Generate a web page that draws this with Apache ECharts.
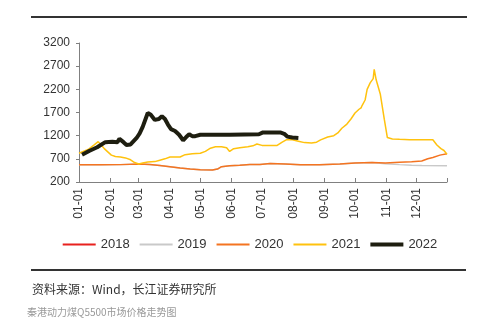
<!DOCTYPE html>
<html>
<head>
<meta charset="utf-8">
<script src="https://cdn.jsdelivr.net/npm/echarts@6/dist/echarts.min.js"></script>
<style>html,body{margin:0;padding:0;background:#fff}#c{width:500px;height:327px}</style>
</head>
<body>
<div id="c"></div>
<script>
// ---- data (day-of-year index, value) ----
var seriesNames = ['2018', '2019', '2020', '2021', '2022'];
var monthLabels = ['01-01','02-01','03-01','04-01','05-01','06-01','07-01','08-01','09-01','10-01','11-01','12-01'];
var yTicks = [200, 700, 1200, 1700, 2200, 2700, 3200];

var days2018 = [];
var vals2018 = [];

var days2019 = [0, 21, 41, 60, 70, 80, 90, 100, 110, 120, 132, 137, 141, 149, 159, 169, 179, 189, 204, 219, 238, 258, 273, 290, 303, 317, 329, 339, 364];
var vals2019 = [570, 570, 575, 590, 580, 555, 530, 500, 480, 465, 460, 480, 530, 550, 560, 580, 580, 600, 590, 570, 570, 590, 610, 620, 595, 575, 562, 556, 550];

var days2020 = [0, 21, 41, 60, 70, 80, 90, 100, 110, 120, 132, 137, 141, 149, 159, 169, 179, 189, 204, 219, 238, 258, 273, 290, 303, 317, 329, 339, 345, 350, 357, 364];
var vals2020 = [570, 570, 575, 590, 580, 555, 530, 500, 480, 465, 460, 480, 530, 550, 560, 580, 580, 600, 590, 570, 570, 590, 610, 620, 610, 625, 635, 655, 700, 730, 780, 810];

var days2021 = [0, 9, 15, 19, 22, 25, 29, 32, 36, 41, 46, 51, 55, 59, 63, 68, 75, 80, 85, 90, 95, 100, 105, 112, 120, 125, 130, 135, 141, 146, 149, 153, 159, 167, 172, 176, 181, 189, 196, 201, 205, 211, 217, 223, 230, 235, 239, 246, 252, 256, 260, 265, 269, 273, 277, 279, 280, 283, 285, 288, 291, 292, 294, 298, 302, 305, 310, 317, 327, 337, 350, 354, 358, 361, 364];
var vals2021 = [820, 900, 1000, 1070, 1000, 920, 840, 780, 750, 740, 720, 680, 620, 590, 610, 630, 640, 670, 700, 740, 740, 740, 790, 810, 820, 860, 930, 960, 960, 940, 860, 920, 940, 960, 980, 1020, 990, 990, 990, 1060, 1110, 1110, 1080, 1050, 1040, 1060, 1110, 1170, 1200, 1260, 1360, 1450, 1560, 1690, 1770, 1800, 1850, 1970, 2200, 2340, 2430, 2630, 2400, 2100, 1550, 1160, 1130, 1120, 1110, 1110, 1110, 1000, 920, 880, 800];

var days2022 = [3, 10, 18, 26, 33, 38, 40, 44, 47, 51, 57, 60, 63, 68, 71, 75, 79, 82, 85, 88, 91, 95, 99, 103, 106, 109, 112, 115, 120, 149, 178, 182, 199, 203, 206, 211, 217];
var vals2022 = [790, 870, 950, 1060, 1070, 1060, 1130, 1060, 1000, 1010, 1150, 1250, 1390, 1690, 1650, 1540, 1560, 1620, 1560, 1440, 1340, 1300, 1220, 1100, 1170, 1230, 1190, 1190, 1220, 1220, 1230, 1270, 1270, 1240, 1180, 1160, 1150];

var colors = ['#E8211E', '#C9C9C9', '#F47421', '#FFC20E', '#1E1E10'];
var widths = [1.5, 1.5, 1.5, 1.5, 4];

// ---- categories: every day of a (non-leap) year ----
var monthLens = [31,28,31,30,31,30,31,31,30,31,30,31];
var cats = [];
for (var m = 0; m < 12; m++) {
  for (var d = 1; d <= monthLens[m]; d++) {
    cats.push((m < 9 ? '0' : '') + (m + 1) + '-' + (d < 10 ? '0' : '') + d);
  }
}
function pairs(ds, vs) { return ds.map(function (x, i) { return [x, vs[i]]; }); }
var allDays = [days2018, days2019, days2020, days2021, days2022];
var allVals = [vals2018, vals2019, vals2020, vals2021, vals2022];

var series = seriesNames.map(function (n, i) {
  return {
    name: n, type: 'line', symbol: 'none', showSymbol: false, silent: true,
    data: pairs(allDays[i], allVals[i]),
    lineStyle: { color: colors[i], width: widths[i] },
    itemStyle: { color: colors[i] },
    z: 2 + i, animation: false
  };
});

var legendData = seriesNames.map(function (n, i) {
  return { name: n, icon: i === 4 ? 'path://M0,0H33V4H0Z' : 'path://M0,0H33V2H0Z', itemStyle: { color: colors[i] } };
});

var chart = echarts.init(document.getElementById('c'), null, { renderer: 'canvas' });
chart.setOption({
  animation: false,
  backgroundColor: '#fff',
  textStyle: { fontFamily: 'Liberation Sans, Arial, sans-serif' },
  grid: { left: 79, right: 53, top: 43, bottom: 145, containLabel: false },
  legend: {
    data: legendData, top: 233, left: 'center', itemWidth: 33, itemHeight: 10, itemGap: 10,
    symbolKeepAspect: true,
    textStyle: { fontSize: 13, color: '#333', fontFamily: 'Liberation Sans, Arial, sans-serif' }
  },
  xAxis: {
    type: 'category', data: cats, boundaryGap: false,
    axisLine: { lineStyle: { color: '#808080', width: 1 } },
    axisTick: { inside: true, length: 4, lineStyle: { color: '#808080' },
      interval: function (i, v) { return v.slice(3) === '01' || i === cats.length - 1; } },
    axisLabel: { rotate: 90, margin: 6, fontSize: 12, color: '#333',
      interval: function (i, v) { return monthLabels.indexOf(v) >= 0; } },
    splitLine: { show: false }
  },
  yAxis: {
    type: 'value', min: yTicks[0], max: yTicks[yTicks.length - 1], interval: yTicks[1] - yTicks[0],
    axisLine: { show: true, lineStyle: { color: '#808080', width: 1 } },
    axisTick: { show: true, length: 3, lineStyle: { color: '#808080' } },
    axisLabel: { fontSize: 12, color: '#333', margin: 9, formatter: function (v) { return String(v); } },
    splitLine: { show: false }
  },
  series: series,
  graphic: [
    { type: 'line', shape: { x1: 31, y1: 17, x2: 467, y2: 17 }, style: { stroke: '#333', lineWidth: 2 } },
    { type: 'line', shape: { x1: 31, y1: 270, x2: 466, y2: 270 }, style: { stroke: '#333', lineWidth: 2 } },
    { type: 'text', left: 32, top: 283, style: { text: '资料来源：Wind，长江证券研究所', fill: '#333',
      font: '12px "Noto Sans CJK SC", sans-serif' } },
    { type: 'text', left: 27, top: 307, style: { text: '秦港动力煤Q5500市场价格走势图', fill: '#999',
      font: '10px "Noto Sans CJK SC", sans-serif' } }
  ]
});
</script>
</body>
</html>
